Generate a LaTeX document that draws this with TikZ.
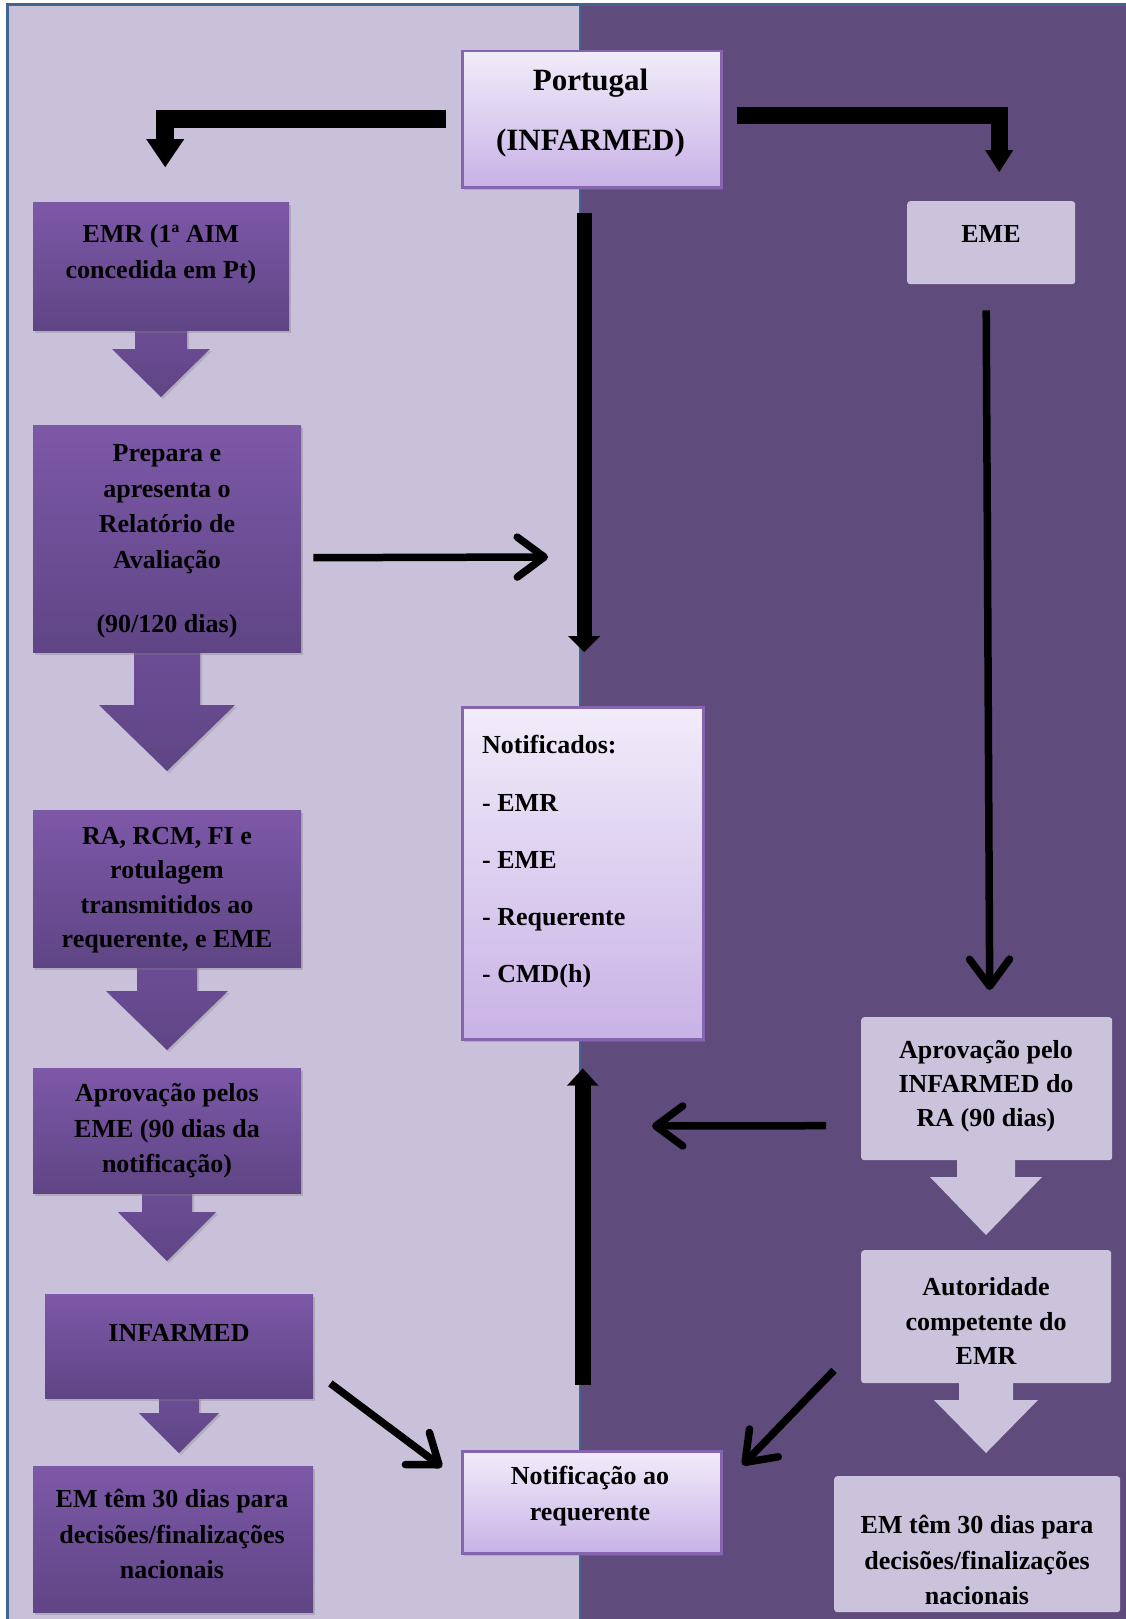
\documentclass[tikz,border=0pt]{standalone}
\usepackage{fontspec}
\setmainfont{Liberation Serif}
\usetikzlibrary{arrows.meta,shadows,calc}
\definecolor{lpanel}{HTML}{C9C0DA}
\definecolor{rpanel}{HTML}{604C7C}
\definecolor{framec}{HTML}{41658F}
\definecolor{dtop}{HTML}{7D58A8}
\definecolor{dbot}{HTML}{5F4585}
\definecolor{atop}{HTML}{6C4D96}
\definecolor{ctop}{HTML}{F1ECF9}
\definecolor{cbot}{HTML}{C8B2E6}
\definecolor{cborder}{HTML}{8566AE}
\definecolor{lboxc}{HTML}{CBC2DC}
\newcommand{\blockarr}[7]{\path[#7] (#1-#5,#2) -- (#1+#5,#2) -- (#1+#5,#3) -- (#1+#6,#3) -- (#1,#4) -- (#1-#6,#3) -- (#1-#5,#3) -- cycle;}
\begin{document}
\begin{tikzpicture}[x=1pt,y=-1pt,
  txt/.style={font=\bfseries\fontsize{26}{35.5}\selectfont, align=center, text=black, inner sep=0pt},
  dbox/.style={rectangle, anchor=north west, inner sep=0pt, top color=dtop, bottom color=dbot, draw=none,
     drop shadow={opacity=0.35, shadow xshift=2pt, shadow yshift=-3pt}},
  cbox/.style={rectangle, anchor=north west, inner sep=0pt, top color=ctop, bottom color=cbot, draw=cborder, line width=2.5pt,
     drop shadow={opacity=0.35, shadow xshift=2pt, shadow yshift=-3pt}},
  rbox/.style={rectangle, anchor=north west, inner sep=0pt, fill=lboxc, rounded corners=3pt},
  darr/.style={top color=atop, bottom color=dbot, drop shadow={opacity=0.3, shadow xshift=2pt, shadow yshift=-2pt}},
  larr/.style={fill=lboxc},
  elbowarr/.style={line width=18pt, -{Triangle[length=28pt,width=38pt,line width=0.1pt]}},
  elbowarrb/.style={line width=17pt, -{Triangle[length=22pt,width=28pt,line width=0.1pt]}},
  vdown/.style={line width=15pt, -{Triangle[length=16pt,width=32pt,line width=0.1pt]}},
  vup/.style={line width=16pt, -{Triangle[length=17pt,width=31pt,line width=0.1pt]}},
  thinarr/.style={line width=7.5pt, -{Straight Barb[length=27pt,width=40pt,round]}}
]
\useasboundingbox (0,0) rectangle (1126,1619);
\fill[white] (0,0) rectangle (1126,1619);
% panels
\fill[lpanel] (8,5) rectangle (580,1619);
\fill[rpanel] (580,5) rectangle (1126,1619);
\draw[framec, line width=3pt] (7,1619) -- (7,5) -- (1126,5);
\draw[framec, line width=2pt] (580,5) -- (580,1619);

% block arrows (left column)
\blockarr{161}{329}{349}{397}{26}{49}{darr}
\blockarr{167}{651}{705}{771}{33}{68}{darr}
\blockarr{167}{966}{991}{1050}{30}{61}{darr}
\blockarr{167}{1192}{1212}{1261}{25}{49}{darr}
\blockarr{179}{1397}{1413}{1453}{20}{40}{darr}
% block arrows (right column)
\blockarr{986}{1159}{1177}{1235}{29}{56}{larr}
\blockarr{986}{1382}{1400}{1453}{27}{52}{larr}

% boxes
\node[cbox, minimum width=259pt, minimum height=136pt] (port) at (461,50) {};
\node[dbox, minimum width=256pt, minimum height=128pt] (emr) at (33,202) {};
\node[dbox, minimum width=268pt, minimum height=227pt] (prep) at (33,425) {};
\node[dbox, minimum width=268pt, minimum height=157pt] (ra) at (33,810) {};
\node[dbox, minimum width=268pt, minimum height=125pt] (ape) at (33,1068) {};
\node[dbox, minimum width=268pt, minimum height=104pt] (inf) at (45,1294) {};
\node[dbox, minimum width=280pt, minimum height=146pt] (eml) at (33,1466) {};
\node[cbox, minimum width=241pt, minimum height=332pt] (notif) at (461,706) {};
\node[cbox, minimum width=259pt, minimum height=102pt] (noti2) at (461,1450) {};
\node[rbox, minimum width=168pt, minimum height=83pt] (eme) at (907,201) {};
\node[rbox, minimum width=251pt, minimum height=143pt] (apr) at (861,1017) {};
\node[rbox, minimum width=250pt, minimum height=133pt] (aut) at (861,1250) {};
\node[rbox, minimum width=286pt, minimum height=136pt] (emr2) at (834,1476) {};

% texts
\node[txt, font=\bfseries\fontsize{31}{60.5}\selectfont] (portT) at (590.5,113) {Portugal\\(INFARMED)};
\node[txt] (emrT) at (161,254) {EMR (1ª AIM\\concedida em Pt)};
\node[txt] (prepT) at (167,541) {Prepara e\\apresenta o\\Relatório de\\Avaliação\\[28.5pt](90/120 dias)};
\node[txt, font=\bfseries\fontsize{26}{34.3}\selectfont] (raT) at (167,890) {RA, RCM, FI e\\rotulagem\\transmitidos ao\\requerente, e EME};
\node[txt] (apeT) at (167,1131) {Aprovação pelos\\EME (90 dias da\\notificação)};
\node[txt] (infT) at (179,1333) {INFARMED};
\node[txt] (emlT) at (172,1534) {EM têm 30 dias para\\decisões/finalizações\\nacionais};
\node[txt, align=left, anchor=west, font=\bfseries\fontsize{26}{57.2}\selectfont] (notifT) at (482,862) {Notificados:\\- EMR\\- EME\\- Requerente\\- CMD(h)};
\node[txt] (noti2T) at (590,1496) {Notificação ao\\requerente};
\node[txt] (emeT) at (991,234) {EME};
\node[txt, font=\bfseries\fontsize{26}{34.3}\selectfont] (aprT) at (986,1086) {Aprovação pelo\\INFARMED do\\RA (90 dias)};
\node[txt, font=\bfseries\fontsize{26}{34.3}\selectfont] (autT) at (986,1321) {Autoridade\\competente do\\EMR};
\node[txt] (emr2T) at (977,1560) {EM têm 30 dias para\\decisões/finalizações\\nacionais};

% free ends
\coordinate (pm) at (548,557);
\coordinate (pl) at (652,1126);

% connectors
\draw[elbowarr] ($(port.west)+(-15,0)$) -| ($(emr.north)+(4,-35)$);
\draw[elbowarrb] ($(port.east)+(14,-4)$) -| ($(eme.north)+(8,-29)$);
\draw[vdown] ($(port.south -| notif.north)+(1.5,24)$) -- ($(notif.north)+(1.5,-54)$);
\draw[vup] ($(noti2.north -| notif.south)+(0,-65)$) -- ($(notif.south)+(0,28)$);
\draw[thinarr] ($(prep.east)+(12,19)$) -- (pm);
\draw[thinarr] ($(eme.south)+(-5,26)$) -- ($(apr.north)+(3,-27)$);
\draw[thinarr] ($(apr.west)+(-35,37)$) -- (pl);
\draw[thinarr] ($(inf.south east)+(17,-15)$) -- ($(noti2.north west)+(-19,17)$);
\draw[thinarr] ($(aut.south west)+(-27,-13)$) -- ($(noti2.north east)+(20,15)$);
\end{tikzpicture}
\end{document}
